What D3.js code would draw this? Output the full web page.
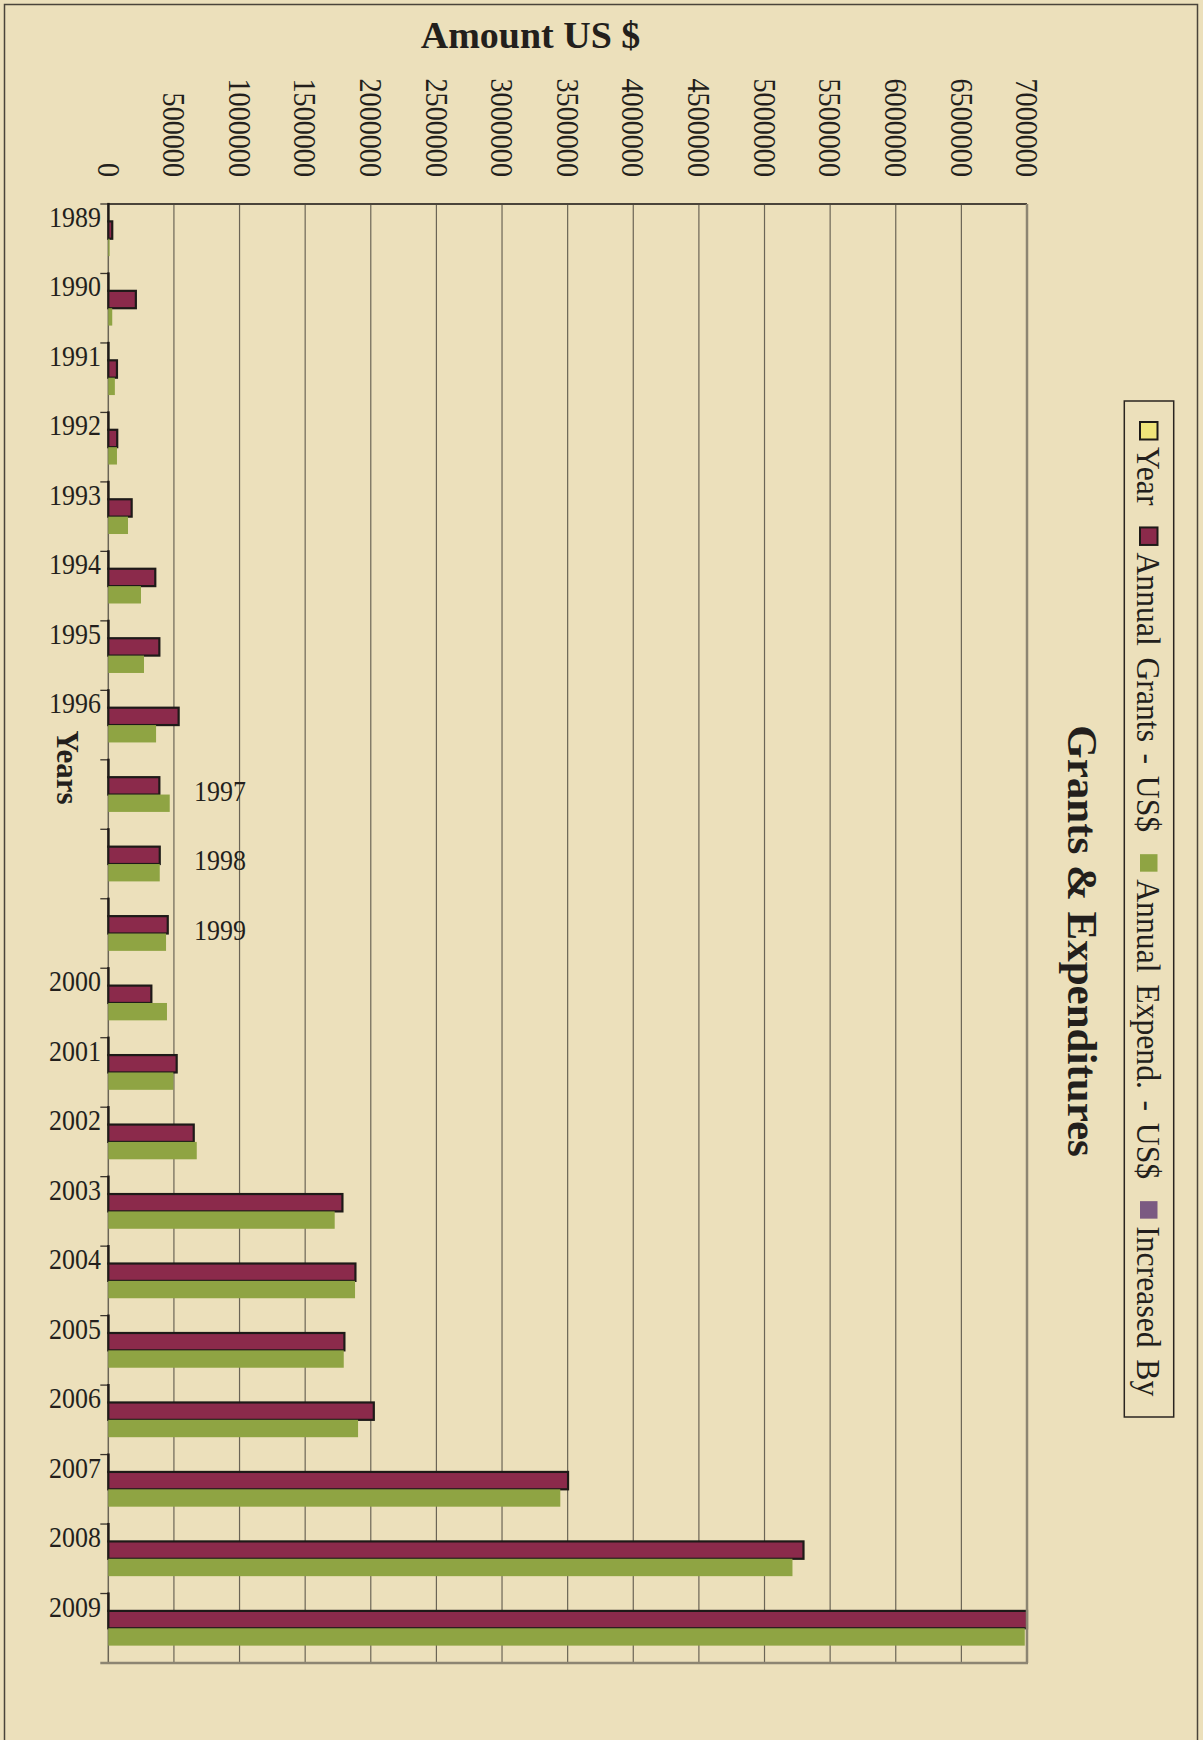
<!DOCTYPE html>
<html>
<head>
    <meta charset="utf-8">
    <title>Grants &amp; Expenditures</title>
    <script src="https://d3js.org/d3.v7.min.js"></script>
    <style>
        body {
            margin: 0;
            background: #ECE0BB;
        }

        svg {
            display: block;
            font-family: 'Liberation Serif', 'Times New Roman', serif;
        }

        text {
            fill: #231f1c;
        }
    </style>
</head>
<body>
    <svg width="1203" height="1740"></svg>
    <script>
        // data
        var years = ["1989", "1990", "1991", "1992", "1993", "1994", "1995", "1996", "1997", "1998",
            "1999", "2000", "2001", "2002", "2003", "2004", "2005", "2006", "2007", "2008", "2009"];
        var yearValues = [1989, 1990, 1991, 1992, 1993, 1994, 1995, 1996, 1997, 1998,
            1999, 2000, 2001, 2002, 2003, 2004, 2005, 2006, 2007, 2008, 2009];
        var grants = [30000, 210000, 66000, 68000, 178000, 358000, 389000, 536000, 389000, 392000,
            453000, 328000, 521000, 651000, 1784000, 1883000, 1799000, 2023000, 3503000, 5297000, 7000000];
        var expend = [10000, 30000, 50000, 66000, 150000, 249000, 272000, 364000, 468000, 392000,
            440000, 447000, 496000, 674000, 1725000, 1880000, 1794000, 1903000, 3444000, 5213000, 6983000];
        var valueTicks = [0, 500000, 1000000, 1500000, 2000000, 2500000, 3000000, 3500000,
            4000000, 4500000, 5000000, 5500000, 6000000, 6500000, 7000000];
        var seriesNames = ["Year", "Annual Grants - US$", "Annual Expend. - US$", "Increased By"];
        var seriesColors = ["#F0E47A", "#8B2A4B", "#8FA443", "#7B5A82"];

        var svg = d3.select("svg");
        var W = 1203, H = 1740;
        var squeeze = 0.88; // the source text is a bit condensed

        // frame
        svg.append("rect").attr("x", 0).attr("y", 0).attr("width", W).attr("height", H).attr("fill", "#ECE0BB");
        svg.append("rect").attr("x", 4.5).attr("y", 4.5).attr("width", 1193).attr("height", 1740)
            .attr("fill", "none").attr("stroke", "#4a443a").attr("stroke-width", 1.5);

        var x = d3.scaleLinear().domain([0, 7000000]).range([108.3, 1027]);
        var y = d3.scaleBand().domain(years).range([204, 1663]).paddingInner(0).paddingOuter(0);
        var inner = d3.scaleBand().domain(seriesNames).range([0, y.bandwidth()]);
        var color = d3.scaleOrdinal().domain(seriesNames).range(seriesColors);

        var plotTop = y.range()[0], plotBottom = y.range()[1];

        // vertical gridlines
        svg.append("g").selectAll("line")
            .data(valueTicks.slice(1, -1))
            .join("line")
            .attr("x1", d => x(d)).attr("x2", d => x(d))
            .attr("y1", plotTop).attr("y2", plotBottom)
            .attr("stroke", "#6b6556").attr("stroke-width", 1.2);

        // top edge and left axis
        svg.append("line").attr("x1", x(0)).attr("x2", x(7000000)).attr("y1", plotTop).attr("y2", plotTop)
            .attr("stroke", "#4a443a").attr("stroke-width", 1.8);
        svg.append("line").attr("x1", x(0)).attr("x2", x(0)).attr("y1", plotTop).attr("y2", plotBottom)
            .attr("stroke", "#6b6556").attr("stroke-width", 1.5);

        // year ticks sit on band boundaries
        svg.append("g").selectAll("line")
            .data(years)
            .join("line")
            .attr("x1", x(0) - 8).attr("x2", x(0))
            .attr("y1", d => y(d)).attr("y2", d => y(d))
            .attr("stroke", "#3a342c").attr("stroke-width", 1.3);

        // value tick labels, rotated
        svg.append("g").selectAll("text")
            .data(valueTicks)
            .join("text")
            .attr("transform", d => "translate(" + (x(d) - 10.8) + ",177) rotate(90) scale(" + squeeze + ",1)")
            .attr("text-anchor", "end")
            .attr("font-size", 32)
            .text(d => d3.format("d")(d));

        // bars
        var rows = years.map((yr, i) => ({
            year: yr,
            values: [
                { key: seriesNames[0], value: yearValues[i] },
                { key: seriesNames[1], value: grants[i] },
                { key: seriesNames[2], value: expend[i] }
            ]
        }));

        var groups = svg.append("g").selectAll("g")
            .data(rows)
            .join("g")
            .attr("transform", d => "translate(0," + y(d.year) + ")");

        groups.selectAll("rect")
            .data(d => d.values)
            .join("rect")
            .attr("x", x(0))
            .attr("y", d => inner(d.key))
            .attr("width", d => x(d.value) - x(0))
            .attr("height", inner.bandwidth())
            .attr("fill", d => color(d.key))
            .attr("stroke", d => d.key === seriesNames[2] ? "none" : "#1e1a18")
            .attr("stroke-width", 2.2);

        // right and bottom edges of the plot
        svg.append("line").attr("x1", x(7000000)).attr("x2", x(7000000)).attr("y1", plotTop).attr("y2", plotBottom)
            .attr("stroke", "#8c8572").attr("stroke-width", 2.5);
        svg.append("line").attr("x1", x(0) - 8).attr("x2", x(7000000) + 1).attr("y1", plotBottom).attr("y2", plotBottom)
            .attr("stroke", "#8c8572").attr("stroke-width", 2.5);

        // year labels (three of them drift out into the plot in the source)
        var drifted = ["1997", "1998", "1999"];
        svg.append("g").selectAll("text")
            .data(years)
            .join("text")
            .attr("transform", d => drifted.includes(d)
                ? "translate(194," + (y(d) + 41) + ") scale(" + squeeze + ",1)"
                : "translate(101," + (y(d) + 23) + ") scale(" + squeeze + ",1)")
            .attr("text-anchor", d => drifted.includes(d) ? "start" : "end")
            .attr("font-size", 29.5)
            .text(d => d);

        // axis titles
        svg.append("text")
            .attr("x", 530.5).attr("y", 48)
            .attr("text-anchor", "middle")
            .attr("font-size", 38).attr("font-weight", "bold")
            .text("Amount US $");

        svg.append("text")
            .attr("transform", "translate(57,767.5) rotate(90)")
            .attr("text-anchor", "middle")
            .attr("font-size", 31).attr("font-weight", "bold")
            .text("Years");

        svg.append("text")
            .attr("transform", "translate(1068,941) rotate(90)")
            .attr("text-anchor", "middle")
            .attr("font-size", 43).attr("font-weight", "bold")
            .text("Grants & Expenditures");

        // legend, running top to bottom
        svg.append("rect").attr("x", 1124.3).attr("y", 401).attr("width", 49.4).attr("height", 1016)
            .attr("fill", "none").attr("stroke", "#2a2520").attr("stroke-width", 1.5);

        var legendSqueeze = 0.92;
        var legend = svg.append("g");
        var ly = 422;
        seriesNames.forEach(function (name) {
            legend.append("rect")
                .attr("x", 1140).attr("y", ly).attr("width", 17.5).attr("height", 17.5)
                .attr("fill", color(name))
                .attr("stroke", name === "Year" || name === "Annual Grants - US$" ? "#1e1a18" : "none")
                .attr("stroke-width", 2);
            var t = legend.append("text")
                .attr("transform", "translate(1137," + (ly + 25) + ") rotate(90) scale(" + legendSqueeze + ",1)")
                .attr("font-size", 34.5)
                .style("word-spacing", "4px")
                .text(name);
            ly += 25 + t.node().getComputedTextLength() * legendSqueeze + 22;
        });
    </script>
</body>
</html>
